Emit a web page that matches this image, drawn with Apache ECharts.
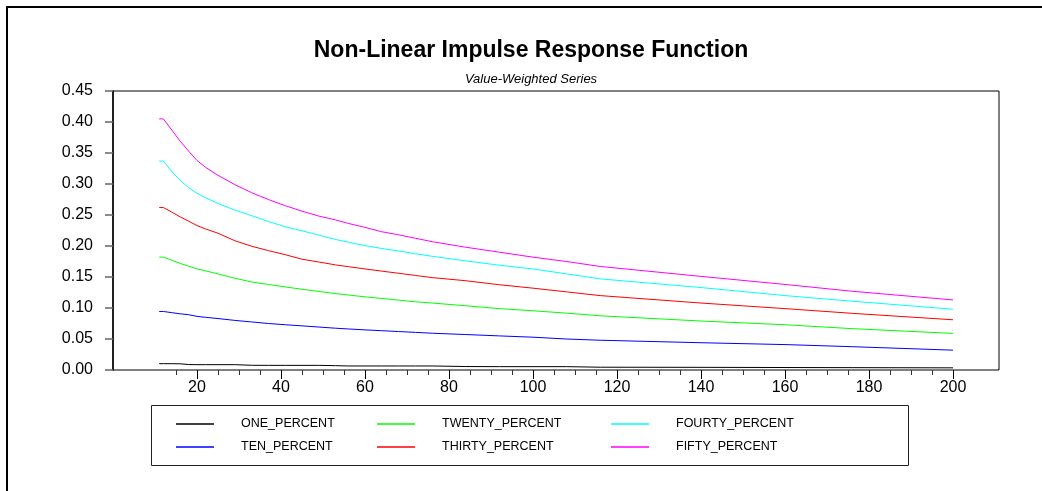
<!DOCTYPE html>
<html>
<head>
<meta charset="utf-8">
<script src="https://cdn.jsdelivr.net/npm/echarts@6/dist/echarts.min.js"></script>
<style>
  html, body { margin: 0; padding: 0; background: #fff; }
  #chart { width: 1042px; height: 491px; }
</style>
</head>
<body>
<div id="chart"></div>
<script>
// Horizon (steps) at which each response was sampled
const horizon = [11, 12, 14, 16, 18, 20, 22, 25, 29, 33, 37, 41, 45, 49, 53, 56, 60, 64, 68, 72, 76, 84, 92, 100, 108, 116, 140, 160, 176, 200];

// Impulse responses by shock size
const onePercent = [0.0102, 0.0102, 0.0102, 0.0100, 0.0088, 0.0086, 0.0086, 0.0086, 0.0086, 0.0076, 0.0075, 0.0075, 0.0075, 0.0075, 0.0070, 0.0065, 0.0065, 0.0065, 0.0065, 0.0065, 0.0065, 0.0056, 0.0054, 0.0054, 0.0054, 0.0045, 0.0043, 0.0040, 0.0038, 0.0035];
const tenPercent = [0.0944, 0.0944, 0.0925, 0.0906, 0.0892, 0.0865, 0.085, 0.083, 0.080, 0.0775, 0.075, 0.073, 0.0712, 0.0693, 0.0674, 0.0662, 0.0647, 0.0634, 0.062, 0.0607, 0.0593, 0.0572, 0.055, 0.0529, 0.050, 0.048, 0.044, 0.041, 0.0376, 0.032];
const twentyPercent = [0.182, 0.182, 0.177, 0.172, 0.1675, 0.163, 0.160, 0.155, 0.148, 0.142, 0.138, 0.134, 0.1302, 0.1267, 0.1232, 0.121, 0.118, 0.1154, 0.1127, 0.110, 0.108, 0.1036, 0.099, 0.0955, 0.0917, 0.0874, 0.079, 0.073, 0.0667, 0.059];
const thirtyPercent = [0.262, 0.262, 0.2546, 0.247, 0.240, 0.233, 0.2276, 0.2206, 0.2085, 0.1996, 0.1926, 0.186, 0.1787, 0.1742, 0.1695, 0.1667, 0.163, 0.1595, 0.156, 0.1525, 0.149, 0.144, 0.1375, 0.132, 0.126, 0.120, 0.108, 0.099, 0.0914, 0.081];
const fourtyPercent = [0.337, 0.337, 0.320, 0.306, 0.294, 0.285, 0.278, 0.2686, 0.258, 0.249, 0.2395, 0.231, 0.2245, 0.2175, 0.2105, 0.2062, 0.2006, 0.196, 0.192, 0.1875, 0.1834, 0.176, 0.169, 0.163, 0.155, 0.147, 0.133, 0.120, 0.111, 0.098];
const fiftyPercent = [0.405, 0.405, 0.387, 0.369, 0.353, 0.338, 0.327, 0.314, 0.299, 0.286, 0.275, 0.265, 0.2562, 0.2483, 0.242, 0.2365, 0.230, 0.223, 0.218, 0.2125, 0.207, 0.198, 0.190, 0.182, 0.175, 0.167, 0.151, 0.138, 0.127, 0.113];

const seriesDefs = [
  { name: 'ONE_PERCENT', values: onePercent, color: '#000000' },
  { name: 'TEN_PERCENT', values: tenPercent, color: '#0000ff' },
  { name: 'TWENTY_PERCENT', values: twentyPercent, color: '#00ff00' },
  { name: 'THIRTY_PERCENT', values: thirtyPercent, color: '#ff0000' },
  { name: 'FOURTY_PERCENT', values: fourtyPercent, color: '#00ffff' },
  { name: 'FIFTY_PERCENT', values: fiftyPercent, color: '#ff00ff' }
];

const FONT = '"Liberation Sans", Arial, sans-serif';

// Horizontal scale: 4.2 px per step, origin at x = 113
const PX_PER_STEP = 4.2;
const ORIGIN_X = 113;
const PLOT_RIGHT = 999;
const AXIS_END = 200;     // last labelled step
const MINOR_START = 15;   // first minor tick
const MAJOR_START = 20;   // first labelled tick

function legendColumn(names, left) {
  return {
    orient: 'vertical',
    left: left,
    top: 417,
    itemGap: 9,
    itemWidth: 38,
    itemHeight: 1.5,
    padding: 0,
    icon: 'rect',
    data: names,
    selectedMode: false,
    textStyle: { fontFamily: FONT, fontSize: 12.5, lineHeight: 14, color: '#000', padding: [0, 0, 0, 22] }
  };
}

const hiddenY = gridIndex => ({
  type: 'value', gridIndex: gridIndex, min: 0, max: 0.45, show: false
});

const chart = echarts.init(document.getElementById('chart'), null, { renderer: 'canvas' });

chart.setOption({
  animation: false,
  backgroundColor: '#ffffff',
  title: [
    {
      text: 'Non-Linear Impulse Response Function',
      left: 526, top: 34, textAlign: 'center',
      textStyle: { fontFamily: FONT, fontSize: 23, fontWeight: 'bold', color: '#000' }
    },
    {
      text: 'Value-Weighted Series',
      left: 526, top: 68, textAlign: 'center',
      textStyle: { fontFamily: FONT, fontSize: 13, fontStyle: 'italic', fontWeight: 'normal', color: '#000' }
    }
  ],
  legend: [
    legendColumn(['ONE_PERCENT', 'TEN_PERCENT'], 176),
    legendColumn(['TWENTY_PERCENT', 'THIRTY_PERCENT'], 377),
    legendColumn(['FOURTY_PERCENT', 'FIFTY_PERCENT'], 611)
  ],
  graphic: [
    {
      type: 'rect', silent: true,
      shape: { x: 7, y: 7, width: 1100, height: 600 },
      style: { fill: 'none', stroke: '#000', lineWidth: 2 }
    },
    {
      type: 'rect', silent: true,
      shape: { x: 151.5, y: 405.5, width: 757, height: 60 },
      style: { fill: 'none', stroke: '#222', lineWidth: 1 }
    }
  ],
  grid: [
    // data area with its frame
    {
      left: ORIGIN_X, top: 91, right: 1042 - PLOT_RIGHT, bottom: 121,
      show: true, borderColor: '#000', borderWidth: 1, backgroundColor: 'transparent'
    },
    // minor tick strip (15 .. 200)
    {
      left: ORIGIN_X + MINOR_START * PX_PER_STEP, right: 1042 - (ORIGIN_X + AXIS_END * PX_PER_STEP),
      top: 91, bottom: 121, show: false
    },
    // labelled tick strip (20 .. 200)
    {
      left: ORIGIN_X + MAJOR_START * PX_PER_STEP, right: 1042 - (ORIGIN_X + AXIS_END * PX_PER_STEP),
      top: 91, bottom: 121, show: false
    }
  ],
  xAxis: [
    {
      type: 'value', gridIndex: 0, min: 0, max: (PLOT_RIGHT - ORIGIN_X) / PX_PER_STEP,
      show: false
    },
    {
      type: 'value', gridIndex: 1, min: MINOR_START, max: AXIS_END, interval: 5,
      splitLine: { show: false },
      axisLine: { show: false },
      axisTick: { show: true, length: 5, lineStyle: { color: '#333' } },
      axisLabel: { show: false }
    },
    {
      type: 'value', gridIndex: 2, min: MAJOR_START, max: AXIS_END, interval: 20,
      splitLine: { show: false },
      axisLine: { show: false },
      axisTick: { show: true, length: 9, lineStyle: { color: '#000' } },
      axisLabel: { margin: 10, fontFamily: FONT, fontSize: 16, color: '#000' }
    }
  ],
  yAxis: [
    {
      type: 'value', gridIndex: 0, min: 0, max: 0.45, interval: 0.05,
      splitLine: { show: false },
      axisLine: { show: true, lineStyle: { color: '#000', width: 1.5 } },
      axisTick: { show: true, length: 8, lineStyle: { color: '#666', width: 1.5 } },
      axisLabel: {
        margin: 20, fontFamily: FONT, fontSize: 16, color: '#000',
        formatter: v => v.toFixed(2)
      }
    },
    hiddenY(1),
    hiddenY(2)
  ],
  series: seriesDefs.map(s => ({
    name: s.name,
    type: 'line',
    xAxisIndex: 0,
    yAxisIndex: 0,
    symbol: 'none',
    smooth: false,
    color: s.color,
    itemStyle: { color: s.color },
    lineStyle: { color: s.color, width: 1 },
    data: horizon.map((h, i) => [h, s.values[i]])
  }))
});
</script>
</body>
</html>
